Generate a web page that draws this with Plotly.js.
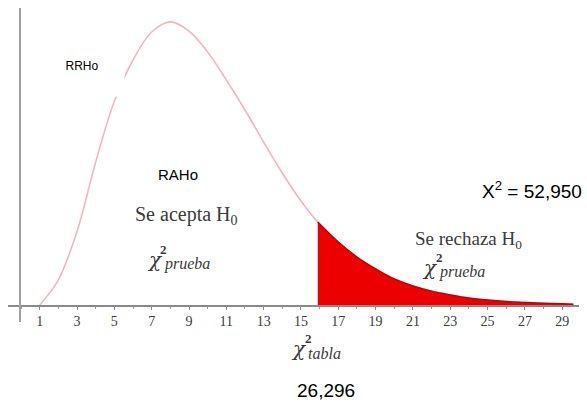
<!DOCTYPE html>
<html>
<head>
<meta charset="utf-8">
<script src="https://cdn.plot.ly/plotly-3.0.1.min.js"></script>
<style>html,body{margin:0;padding:0;background:#fff;}#chart{width:587px;height:403px;}</style>
</head>
<body>
<div id="chart"></div>
<script>
// Curve (chi-square density shape)
const curveX = [1, 2, 3, 4, 5, 6, 7, 8, 9, 10, 11, 12, 13, 14, 15, 15.9, 17, 18, 19, 20, 21, 22, 23, 24, 25, 26, 27, 28, 29, 29.6];
const curveY = [0, 0.0087, 0.0255, 0.0495, 0.0705, 0.0848, 0.0945, 0.098, 0.0948, 0.0876, 0.0779, 0.0675, 0.0564, 0.0457, 0.036, 0.0287, 0.0218, 0.0166, 0.0125, 0.009, 0.0066, 0.0048, 0.0035, 0.0024, 0.0017, 0.0012, 0.0009, 0.0006, 0.0004, 0.0003];
const critical = 15.9;
const tickValues = [1, 3, 5, 7, 9, 11, 13, 15, 17, 19, 21, 23, 25, 27, 29];
const tickLabels = ["1", "3", "5", "7", "9", "11", "13", "15", "17", "19", "21", "23", "25", "27", "29"];
const statText = "X<sup>2</sup> = 52,950";
const tableText = "26,296";

const shadeX = [], shadeY = [];
curveX.forEach((v, i) => { if (v >= critical) { shadeX.push(v); shadeY.push(curveY[i]); } });

// pixel -> paper helpers for label placement (plot area: left 8, width 571, top 8, height 297)
const PX = px => (px - 8) / 571;
const PY = py => (305 - py) / 297;

const serif = "Liberation Serif, Times New Roman, serif";
const greek = "DejaVu Serif, Liberation Serif, serif";
const sans = "Liberation Sans, Arial, sans-serif";
const ink = "#3a3a3a";

const traces = [
  { x: curveX, y: curveY, type: "scatter", mode: "lines", line: { color: "#f0b6c0", width: 1.6, shape: "spline", smoothing: 1 }, hoverinfo: "none" },
  { x: shadeX, y: shadeY, type: "scatter", mode: "lines", fill: "tozeroy", fillcolor: "#ec0000", line: { color: "#c40000", width: 1.5, shape: "spline", smoothing: 1 }, hoverinfo: "none" }
];

function ann(px, py, text, font, extra) {
  return Object.assign({ x: PX(px), y: PY(py), xref: "paper", yref: "paper", text: text, showarrow: false, xanchor: "center", yanchor: "middle", font: font }, extra || {});
}

function chi(px, py, sub) {
  // χ with stacked superscript 2 and italic subscript
  return [
    ann(px, py, "<i>χ</i>", { family: greek, size: 20, color: ink }),
    ann(px + 9, py - 11, "<b>2</b>", { family: serif, size: 13, color: ink }),
    ann(px + 7, py + 4, "<i>" + sub + "</i>", { family: serif, size: 16, color: ink }, { xanchor: "left" })
  ];
}

const annotations = [
  ann(82, 66, "RRHo", { family: sans, size: 12, color: "#000" }, { bgcolor: "#fff", width: 82, height: 58 }),
  ann(178, 174, "RAHo", { family: sans, size: 15, color: "#000" }),
  ann(186, 216, "Se acepta H<sub>0</sub>", { family: serif, size: 20, color: ink }),
  ...chi(155, 260, "prueba"),
  ann(532, 190, statText, { family: sans, size: 19, color: "#000" }),
  ann(468, 240, "Se rechaza H<sub>0</sub>", { family: serif, size: 19, color: ink }),
  ...chi(430, 268, "prueba"),
  ...chi(299, 349, "tabla"),
  ann(326, 390, tableText, { family: sans, size: 19, color: "#000" })
];

const layout = {
  width: 587, height: 403,
  margin: { l: 8, r: 8, t: 8, b: 98 },
  paper_bgcolor: "#fff", plot_bgcolor: "#fff",
  showlegend: false,
  xaxis: {
    range: [-0.7, 29.9], showgrid: false, zeroline: false,
    showline: true, linecolor: "#8a8a8a", linewidth: 1.5,
    tickmode: "array", tickvals: tickValues, ticktext: tickLabels,
    ticks: "outside", ticklen: 3, tickcolor: "#8a8a8a",
    minor: { dtick: 1, tick0: 0, ticks: "outside", ticklen: 2, tickcolor: "#999" },
    tickfont: { family: serif, size: 14, color: "#3a3a3a" }
  },
  yaxis: { range: [0, 0.1028], showgrid: false, zeroline: false, showline: false, showticklabels: false, ticks: "" },
  shapes: [
    { type: "line", xref: "paper", yref: "paper", x0: PX(20), x1: PX(20), y0: -17 / 297, y1: 1, line: { color: "#a0a0a0", width: 2 } }
  ],
  annotations: annotations
};

Plotly.newPlot("chart", traces, layout, { staticPlot: true, displayModeBar: false });
</script>
</body>
</html>
